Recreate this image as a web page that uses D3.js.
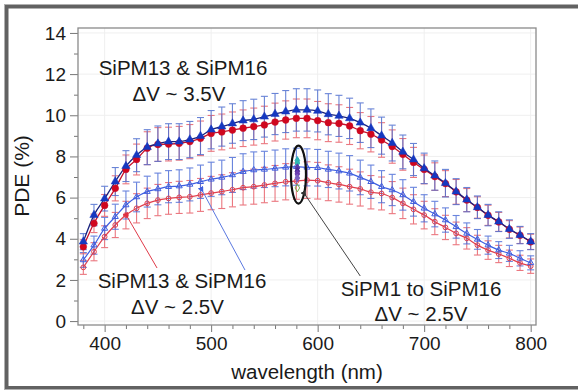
<!DOCTYPE html>
<html><head><meta charset="utf-8">
<script src="https://cdn.jsdelivr.net/npm/d3@7"></script>
<style>
body{margin:0;background:#fff}
svg{display:block}
text{font-family:"Liberation Sans",Arial,sans-serif;fill:#1a1a1a}
</style>
</head><body>
<svg id="c" width="578" height="390"></svg>
<script>
const wavelength=[380,390,400,410,420,430,440,450,460,470,480,490,500,510,520,530,540,550,560,570,580,590,600,610,620,630,640,650,660,670,680,690,700,710,720,730,740,750,760,770,780,790,800];
const sipm16_35=[3.86,5.15,5.95,6.78,7.53,8.06,8.45,8.62,8.72,8.72,8.82,8.99,9.30,9.45,9.60,9.74,9.80,9.93,10.06,10.18,10.26,10.26,10.21,10.05,9.97,9.85,9.64,9.37,9.01,8.65,8.22,7.85,7.42,7.07,6.70,6.29,5.90,5.53,5.15,4.83,4.47,4.18,3.86];
const sipm16_35_err=[0.39,0.52,0.60,0.68,0.75,0.80,0.85,0.86,0.87,0.87,0.88,0.90,0.93,0.95,0.96,0.97,0.98,0.99,1.00,1.02,1.03,1.03,1.02,1.00,1.00,0.98,0.96,0.94,0.90,0.87,0.82,0.78,0.74,0.71,0.67,0.63,0.59,0.55,0.52,0.48,0.45,0.42,0.39];
const sipm13_35=[3.61,4.75,5.62,6.45,7.37,7.85,8.40,8.58,8.60,8.64,8.72,8.88,9.12,9.19,9.28,9.37,9.45,9.53,9.67,9.77,9.85,9.85,9.74,9.64,9.60,9.48,9.25,9.08,8.80,8.48,8.10,7.71,7.37,7.02,6.68,6.28,5.88,5.52,5.14,4.82,4.46,4.17,3.85];
const sipm13_35_err=[0.34,0.45,0.53,0.61,0.70,0.75,0.80,0.82,0.82,0.82,0.83,0.84,0.87,0.87,0.88,0.89,0.90,0.91,0.92,0.93,0.94,0.94,0.93,0.92,0.91,0.90,0.88,0.86,0.84,0.81,0.77,0.73,0.70,0.67,0.63,0.60,0.56,0.52,0.49,0.46,0.42,0.40,0.37];
const sipm16_25=[2.97,3.69,4.50,5.07,5.64,6.03,6.29,6.42,6.53,6.56,6.64,6.77,6.89,6.98,7.10,7.26,7.34,7.37,7.42,7.47,7.50,7.47,7.45,7.37,7.29,7.18,6.98,6.77,6.53,6.37,6.13,5.80,5.48,5.20,4.91,4.58,4.26,3.97,3.69,3.45,3.29,3.05,2.83];
const sipm16_25_err=[0.36,0.44,0.54,0.61,0.68,0.72,0.75,0.77,0.78,0.79,0.80,0.81,0.83,0.84,0.85,0.87,0.88,0.88,0.89,0.90,0.90,0.90,0.89,0.88,0.87,0.86,0.84,0.81,0.78,0.76,0.74,0.70,0.66,0.62,0.59,0.55,0.51,0.48,0.44,0.41,0.39,0.37,0.34];
const sipm13_25=[2.61,3.37,4.10,4.67,5.15,5.48,5.72,5.88,5.96,6.01,6.04,6.13,6.22,6.29,6.38,6.48,6.53,6.61,6.69,6.77,6.80,6.85,6.82,6.72,6.64,6.53,6.42,6.26,6.20,6.00,5.72,5.43,5.15,4.83,4.55,4.26,4.02,3.69,3.45,3.26,3.05,2.83,2.67];
const sipm13_25_err=[0.34,0.44,0.53,0.61,0.67,0.71,0.74,0.76,0.77,0.78,0.79,0.80,0.81,0.82,0.83,0.84,0.85,0.86,0.87,0.88,0.88,0.89,0.89,0.87,0.86,0.85,0.83,0.81,0.80,0.78,0.74,0.71,0.67,0.63,0.59,0.55,0.52,0.48,0.45,0.42,0.40,0.37,0.35];
const clusterWavelength=[580,580,580,580,580,580,580];
const clusterValues=[7.80,7.68,7.45,7.28,7.15,6.95,6.47];
const xTicks=[400,500,600,700,800];
const xMinorTicks=[380,420,440,460,480,520,540,560,580,620,640,660,680,720,740,760,780];
const yTicks=[0,2,4,6,8,10,12,14];
const yMinorTicks=[1,3,5,7,9,11,13];
const notes=[
  {lines:["SiPM13 & SiPM16","\u0394V ~ 3.5V"]},
  {lines:["SiPM13 & SiPM16","\u0394V ~ 2.5V"]},
  {lines:["SiPM1 to SiPM16","\u0394V ~ 2.5V"]}
];

const svg=d3.select('#c');
const L=78,R=536,T=28,B=325;
const x=d3.scaleLinear().domain([375,805]).range([L,R]);
const y=d3.scaleLinear().domain([-0.19,14.24]).range([B,T]);

// outer frame
svg.append('rect').attr('x',6.5).attr('y',6.5).attr('width',640).attr('height',381.5)
  .attr('fill','none').attr('stroke','#626262').attr('stroke-width',4);
svg.append('rect').attr('x',4.5).attr('y',4.5).attr('width',640).attr('height',385)
  .attr('fill','none').attr('stroke','#b0b0b0').attr('stroke-width',1);

// grid
const g=svg.append('g');
g.selectAll('.gx').data(xTicks).join('line').attr('x1',d=>x(d)).attr('x2',d=>x(d)).attr('y1',T).attr('y2',B)
  .attr('stroke','#efefef').attr('stroke-width',1);
g.selectAll('.gy').data(yTicks).join('line').attr('y1',d=>y(d)).attr('y2',d=>y(d)).attr('x1',L).attr('x2',R)
  .attr('stroke','#efefef').attr('stroke-width',1);

// axes
const ax=svg.append('g').attr('transform',`translate(0,${B})`)
  .call(d3.axisBottom(x).tickValues(xTicks).tickSize(7).tickPadding(5).tickFormat(d3.format('d')));
const axm=svg.append('g').attr('transform',`translate(0,${B})`)
  .call(d3.axisBottom(x).tickValues(xMinorTicks).tickSize(4).tickFormat(''));
const ay=svg.append('g').attr('transform',`translate(${L},0)`)
  .call(d3.axisLeft(y).tickValues(yTicks).tickSize(8).tickPadding(4).tickFormat(d3.format('d')));
const aym=svg.append('g').attr('transform',`translate(${L},0)`)
  .call(d3.axisLeft(y).tickValues(yMinorTicks).tickSize(4).tickFormat(''));
[ax,axm,ay,aym].forEach(a=>{a.select('.domain').remove();a.selectAll('line').attr('stroke','#777');
  a.selectAll('text').style('font-size','19px').style('font-family','"Liberation Sans",Arial,sans-serif').attr('fill','#1a1a1a');});

svg.append('rect').attr('x',L).attr('y',T).attr('width',R-L).attr('height',B-T)
  .attr('fill','none').attr('stroke','#8a8a8a').attr('stroke-width',1.3);

// axis labels
svg.append('text').attr('transform','translate(29,176) rotate(-90)').attr('text-anchor','middle')
  .style('font-size','21px').text('PDE (%)');
svg.append('text').attr('x',307).attr('y',379).attr('text-anchor','middle')
  .style('font-size','20.5px').text('wavelength (nm)');

const plot=svg.append('g');
function series(vals,errs,o){
  const data=wavelength.map((w,i)=>({w,v:vals[i],e:errs[i]}));
  const eg=plot.append('g').attr('stroke',o.err).attr('stroke-width',1.1).attr('opacity',o.errOp);
  eg.selectAll('.v').data(data).join('line').attr('x1',d=>x(d.w)).attr('x2',d=>x(d.w))
    .attr('y1',d=>y(d.v-d.e)).attr('y2',d=>y(d.v+d.e));
  eg.selectAll('.t').data(data).join('line').attr('x1',d=>x(d.w)-3.5).attr('x2',d=>x(d.w)+3.5)
    .attr('y1',d=>y(d.v+d.e)).attr('y2',d=>y(d.v+d.e));
  eg.selectAll('.b').data(data).join('line').attr('x1',d=>x(d.w)-3.5).attr('x2',d=>x(d.w)+3.5)
    .attr('y1',d=>y(d.v-d.e)).attr('y2',d=>y(d.v-d.e));
  return data;
}
function curve(data,o){
  plot.append('path').datum(data).attr('fill','none').attr('stroke',o.line).attr('stroke-width',o.lw)
    .attr('d',d3.line().x(d=>x(d.w)).y(d=>y(d.v)).curve(d3.curveMonotoneX));
}
function markers(data,o){
  plot.append('g').selectAll('path').data(data).join('path')
    .attr('transform',d=>`translate(${x(d.w)},${y(d.v)})`)
    .attr('d',d3.symbol().type(o.sym).size(o.size))
    .attr('fill',o.fill).attr('stroke',o.stroke).attr('stroke-width',o.sw);
}
const sR25={err:'#e8606a',errOp:0.85,line:'#e0404e',lw:1.2,sym:d3.symbolCircle,size:18,fill:'none',stroke:'#e0404e',sw:1};
const sB25={err:'#4f6fd8',errOp:0.85,line:'#3f5fe0',lw:1.2,sym:d3.symbolTriangle,size:16,fill:'none',stroke:'#3f5fe0',sw:1};
const sR35={err:'#e8606a',errOp:0.85,line:'#c8102a',lw:1.3,sym:d3.symbolCircle,size:36,fill:'#d0061e',stroke:'#c8102a',sw:0.5};
const sB35={err:'#4f6fd0',errOp:0.85,line:'#1a237e',lw:1.3,sym:d3.symbolTriangle,size:30,fill:'#1538c0',stroke:'#1538c0',sw:0.5};

const dR25=series(sipm13_25,sipm13_25_err,sR25);
const dB25=series(sipm16_25,sipm16_25_err,sB25);
const dR35=series(sipm13_35,sipm13_35_err,sR35);
const dB35=series(sipm16_35,sipm16_35_err,sB35);
curve(dR25,sR25);curve(dB25,sB25);curve(dR35,sR35);curve(dB35,sB35);
markers(dR25,sR25);markers(dB25,sB25);markers(dR35,sR35);markers(dB35,sB35);

// cluster of SiPM1..SiPM16 at 580 nm
const clusterColors=['#2ab0b8','#30b8b0','#5a3aa8','#4a2c98','#6a3cb0','#7a60c0','#7aa84a'];
plot.append('g').selectAll('path').data(clusterValues.map((v,i)=>({w:clusterWavelength[i],v,i}))).join('path')
  .attr('transform',d=>`translate(${x(d.w)+1},${y(d.v)})`)
  .attr('d',d3.symbol().type(d3.symbolDiamond).size(18))
  .attr('fill',d=>d.i===6?'none':clusterColors[d.i]).attr('stroke',d=>clusterColors[d.i]).attr('stroke-width',1);
plot.append('ellipse').attr('cx',x(582)).attr('cy',y(7.12)).attr('rx',7.5).attr('ry',29)
  .attr('fill','none').attr('stroke','#111').attr('stroke-width',2.2);

// annotation pointers
const defs=svg.append('defs');
[['ah-k','#333'],['ah-b','#3f5fe0'],['ah-r','#e03040']].forEach(([id,c])=>{
  defs.append('marker').attr('id',id).attr('viewBox','0 0 10 10').attr('refX',1).attr('refY',5)
    .attr('markerWidth',6).attr('markerHeight',6).attr('orient','auto-start-reverse')
    .append('path').attr('d','M0,5 L10,0 L10,10 Z').attr('fill',c);
});
const pointers=[
  {from:[589,6.08],to:[640,2.19],c:'#444',m:'ah-k'},
  {from:[492.4,6.27],to:[531.8,2.48],c:'#5a78e0',m:'ah-b'},
  {from:[421.9,5.01],to:[449.2,2.58],c:'#e03a48',m:'ah-r'}
];
svg.append('g').selectAll('line').data(pointers).join('line')
  .attr('x1',d=>x(d.from[0])).attr('y1',d=>y(d.from[1])).attr('x2',d=>x(d.to[0])).attr('y2',d=>y(d.to[1]))
  .attr('stroke',d=>d.c).attr('stroke-width',1).attr('marker-start',d=>`url(#${d.m})`);

// annotation texts
const notePos=[[[183,75],[179,100.5]],[[182,288],[177.5,314]],[[421,296],[421,320.5]]];
notes.forEach((n,i)=>{
  n.lines.forEach((t,j)=>{
    svg.append('text').attr('x',notePos[i][j][0]).attr('y',notePos[i][j][1]).attr('text-anchor','middle')
      .style('font-size','20.5px').text(t);
  });
});
</script>
</body></html>
